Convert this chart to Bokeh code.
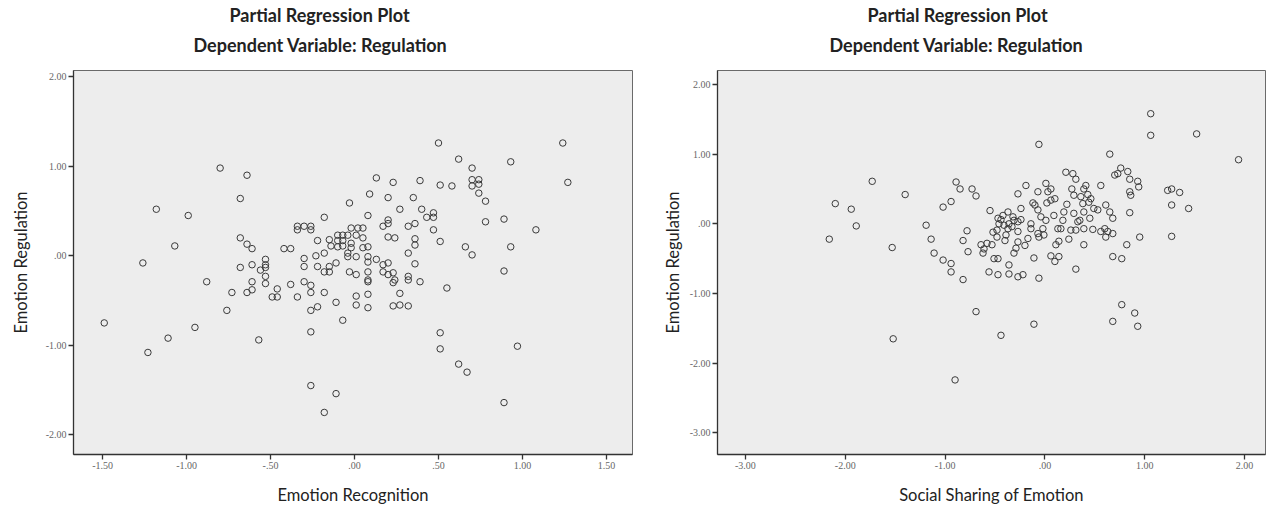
from bokeh.plotting import figure
from bokeh.layouts import row
from bokeh.models import FixedTicker, CustomJSTickFormatter, Title
from bokeh.embed import file_html
from bokeh.resources import INLINE

# ---------------- data ----------------
left_x = [-0.80, -0.64, -0.68, -1.18, -0.99, -1.07, -1.26, -0.88, -0.68, -0.64,
          -0.61, -0.68, -0.61, -0.56, -0.53, -0.53, -0.53, -0.53, -0.53, -0.61,
          -0.61, -0.73, -0.64, -0.46, -0.49, -0.46, -0.38, -0.34, -0.76, -0.42,
          -0.38, -0.34, -0.30, -0.26, -0.26, -0.34, -0.18, -0.22, -0.15, -0.10,
          -0.10, -0.10, -0.23, -0.18, -0.30, -0.30, -0.22, -0.18, -0.15, -0.15,
          -0.11, -0.30, -0.26, -0.26, -0.18, -0.22, -0.26, -0.11,
          -1.49, -1.23, -1.11, -0.95, -0.26, -0.57, 0.01, 0.01, 0.08, 0.08,
          0.08, 0.23, 0.23, 0.27, 0.32, 0.27, 0.32, 0.39, 0.55, 0.51,
          0.51, 0.97, 0.62, 0.67, 0.89, -0.26, -0.11, -0.18, -0.07,
          0.50, 1.24, 0.62, 0.93, 0.70, 0.74, 0.74, 0.70, 0.70, 1.27,
          0.13, 0.23, 0.39, 0.51, 0.58, 0.74, 0.78, 0.09, 0.20, 0.35,
          -0.03, 0.27, 0.40, 0.47, 0.47, 0.43, 0.08, 0.20, 0.20, 0.78,
          0.89, 1.08, 0.17, 0.32, 0.36, 0.47, -0.02, 0.02, 0.05, -0.07,
          -0.04, 0.01, 0.20, 0.24, 0.36, 0.36, 0.51, 0.66, 0.70, 0.93,
          -0.07, -0.14, -0.07, -0.02, -0.02, 0.05, 0.05, 0.08, -0.04, -0.04,
          0.01, 0.08, 0.13, 0.08, 0.17, 0.20, 0.32, 0.36, -0.03, 0.01,
          0.08, 0.08, 0.17, 0.20, 0.23, 0.24, 0.32, 0.89]
left_y = [0.98, 0.90, 0.64, 0.52, 0.45, 0.11, -0.08, -0.29, 0.20, 0.13,
          0.08, -0.13, -0.10, -0.16, -0.04, -0.10, -0.13, -0.23, -0.31, -0.29,
          -0.38, -0.41, -0.41, -0.37, -0.46, -0.46, -0.32, -0.46, -0.61, 0.08,
          0.08, 0.33, 0.33, 0.33, 0.29, 0.29, 0.43, 0.17, 0.18, 0.23,
          0.17, 0.10, 0.00, 0.03, -0.03, -0.12, -0.12, -0.18, -0.18, -0.12,
          -0.08, -0.29, -0.33, -0.41, -0.41, -0.57, -0.61, -0.52,
          -0.75, -1.08, -0.92, -0.80, -0.85, -0.94, -0.45, -0.55, -0.29, -0.43,
          -0.58, -0.30, -0.56, -0.55, -0.56, -0.42, -0.27, -0.29, -0.36, -0.86,
          -1.04, -1.01, -1.21, -1.30, -1.64, -1.45, -1.54, -1.75, -0.72,
          1.26, 1.26, 1.08, 1.05, 0.98, 0.85, 0.80, 0.85, 0.78, 0.82,
          0.87, 0.82, 0.84, 0.79, 0.78, 0.70, 0.61, 0.69, 0.65, 0.65,
          0.59, 0.52, 0.52, 0.48, 0.43, 0.43, 0.45, 0.40, 0.36, 0.38,
          0.41, 0.29, 0.33, 0.33, 0.36, 0.29, 0.31, 0.31, 0.31, 0.23,
          0.23, 0.23, 0.21, 0.20, 0.19, 0.12, 0.16, 0.10, 0.01, 0.10,
          0.17, 0.11, 0.11, 0.14, 0.09, 0.20, 0.09, 0.10, 0.03, -0.01,
          -0.01, -0.01, -0.04, -0.07, -0.10, -0.08, 0.03, -0.09, -0.18, -0.21,
          -0.18, -0.27, -0.18, -0.21, -0.19, -0.27, -0.23, -0.17]

right_x = [1.06, 1.06, 1.52, 1.94, -0.06, 0.65, -1.73, -2.10, -1.94, -1.89,
           -2.16, -1.53, -1.40, -0.89, -0.85, -0.73, -0.69, -0.94, -1.02, -1.19,
           -1.14, -1.11, -1.02, -0.94, -0.94, -0.82, -0.78, -0.82, -0.77, -0.64,
           -0.62, -0.53, -0.48, -0.48, -0.51, -0.47, -0.56, -0.47, -0.36, -0.36,
           -0.27, -0.22,
           -0.47, -0.42, -0.37, -0.32, -0.41, -0.36, -0.31, -0.37, -0.46, -0.27,
           -0.27, -0.19, -0.27, -0.27, -0.29, -0.31, -0.17, -0.14, -0.14,
           -0.10, -0.07, -0.07, 0.01, 0.03, 0.06, 0.06, 0.10, 0.01, -0.02,
           -0.01, -0.06, -0.07, 0.09, -0.04, -0.11, -0.06, 0.06, 0.10, 0.14,
           0.13, 0.14, 0.19, 0.29,
           0.21, 0.28, 0.31, 0.27, 0.29, 0.36, 0.39, 0.43, 0.38, 0.44,
           0.49, 0.53, 0.39, 0.41, 0.46, 0.56,
           0.26, 0.31, 0.39, 0.48, 0.56, 0.60, 0.63, 0.68, 0.61, 0.16,
           0.39, 0.31, 0.61, 0.65, 0.68, 0.68, 0.77, 0.82, 0.85,
           0.70, 0.73, 0.76, 0.83, 0.85, 0.93, 0.94, 0.85, 0.86, 0.95,
           1.23, 1.27, 1.35, 1.27, 1.44, 1.27,
           0.77, 0.90, 0.68, 0.93, -0.69, -0.11, -0.44, -1.52, -0.90,
           -0.58, -0.52, -0.44, -0.40, -0.33, -0.24, -0.20, -0.12, 0.18, 0.22,
           0.24, 0.33, 0.45, -0.55, -0.61, -0.39, -0.24, 0.02, 0.11, 0.35]
right_y = [1.58, 1.27, 1.29, 0.92, 1.14, 1.00, 0.61, 0.29, 0.21, -0.03,
           -0.22, -0.34, 0.42, 0.60, 0.50, 0.50, 0.40, 0.32, 0.24, -0.02,
           -0.22, -0.42, -0.52, -0.57, -0.69, -0.80, -0.10, -0.24, -0.40, -0.30,
           -0.42, -0.30, -0.19, -0.09, -0.50, -0.50, -0.69, -0.73, -0.59, -0.72,
           -0.76, -0.73,
           0.08, 0.12, 0.17, 0.10, -0.02, 0.00, 0.05, -0.07, 0.00, 0.03,
           0.43, 0.55, -0.11, -0.26, -0.35, -0.42, -0.21, -0.07, 0.00,
           0.27, 0.20, 0.46, 0.58, 0.46, 0.50, 0.34, 0.36, 0.05, -0.07,
           -0.16, -0.19, -0.14, 0.12, 0.10, -0.49, -0.78, -0.46, -0.54, -0.47,
           -0.07, -0.25, 0.17, 0.15,
           0.74, 0.72, 0.64, 0.50, 0.41, 0.39, 0.50, 0.42, 0.29, 0.31,
           0.22, 0.20, 0.17, 0.55, 0.36, 0.55,
           -0.09, -0.09, -0.07, -0.08, -0.11, -0.07, -0.11, -0.14, -0.19, -0.07,
           -0.30, -0.65, 0.27, 0.17, 0.08, -0.47, -0.50, -0.30, 0.16,
           0.70, 0.72, 0.80, 0.75, 0.64, 0.61, 0.53, 0.46, 0.41, -0.19,
           0.48, 0.50, 0.45, 0.27, 0.22, -0.18,
           -1.16, -1.28, -1.40, -1.47, -1.26, -1.44, -1.60, -1.65, -2.24,
           -0.28, -0.12, 0.06, -0.24, -0.04, 0.06, -0.31, 0.30, 0.05, 0.28,
           -0.22, 0.03, 0.08, 0.19, -0.36, -0.16, 0.22, 0.30, -0.30, 0.05]

left_xticks = [-1.5, -1.0, -0.5, 0.0, 0.5, 1.0, 1.5]
left_yticks = [-2.0, -1.0, 0.0, 1.0, 2.0]
right_xticks = [-3.0, -2.0, -1.0, 0.0, 1.0, 2.0]
right_yticks = [-3.0, -2.0, -1.0, 0.0, 1.0, 2.0]

title_line1 = "Partial Regression Plot"
title_line2 = "Dependent Variable: Regulation"
left_xlabel = "Emotion Recognition"
right_xlabel = "Social Sharing of Emotion"
ylabel = "Emotion Regulation"

# ---------------- styling helpers ----------------
fmt_code = """
const s = Math.abs(tick).toFixed(2);
const t = s.startsWith("0") ? s.slice(1) : s;
return (tick < -1e-9 ? "-" : "") + t;
"""


def title_style(t, standoff, offset):
    t.align = "left"
    t.offset = offset
    t.text_font = "Lato"
    t.text_font_style = "bold"
    t.text_font_size = "18px"
    t.text_color = "#222222"
    t.standoff = standoff


def style(p, xticks, yticks, xlabel, ystandoff, off1, off2):
    p.background_fill_color = "#ededed"
    p.border_fill_color = "white"
    p.outline_line_color = "#6a6a6a"
    p.outline_line_width = 1
    p.xgrid.visible = False
    p.ygrid.visible = False
    for ax, ticks in ((p.xaxis[0], xticks), (p.yaxis[0], yticks)):
        ax.ticker = FixedTicker(ticks=ticks)
        ax.formatter = CustomJSTickFormatter(code=fmt_code)
        ax.axis_line_color = "#333333"
        ax.axis_line_width = 1.3
        ax.major_tick_line_color = "#333333"
        ax.major_tick_line_width = 1.3
        ax.major_tick_out = 5
        ax.major_tick_in = 0
        ax.minor_tick_line_color = None
        ax.major_label_text_font = "Liberation Serif"
        ax.major_label_text_font_size = "10px"
        ax.major_label_text_color = "#666666"
        ax.major_label_standoff = 2
        ax.axis_label_text_font = "Lato"
        ax.axis_label_text_font_size = "16.5px"
        ax.axis_label_text_font_style = "normal"
        ax.axis_label_text_color = "#222222"
    p.xaxis[0].axis_label = xlabel
    p.xaxis[0].axis_label_standoff = 13
    p.yaxis[0].axis_label = ylabel
    p.yaxis[0].axis_label_standoff = ystandoff
    # outermost: first line (the figure's own title)
    p.title.text = title_line1
    title_style(p.title, 2, off1)
    # nearest the frame: a small empty spacer, then the second line
    spacer = Title(text=" ", text_font_size="1px", standoff=6)
    p.add_layout(spacer, "above")
    t2 = Title(text=title_line2)
    title_style(t2, 11, off2)
    p.add_layout(t2, "above")


# ---------------- left plot ----------------
p1 = figure(width=640, height=507, x_range=(-1.673, 1.655), y_range=(-2.22, 2.07),
            output_backend="svg", toolbar_location=None,
            min_border_left=73, min_border_right=8, min_border_top=70, min_border_bottom=52)
style(p1, left_xticks, left_yticks, left_xlabel, 12, 156, 120)
p1.scatter(left_x, left_y, marker="circle", size=6.5, fill_color=None,
           line_color="#3a3a3a", line_width=1)

# ---------------- right plot ----------------
p2 = figure(width=627, height=507, x_range=(-3.28, 2.21), y_range=(-3.31, 2.20),
            output_backend="svg", toolbar_location=None,
            min_border_left=77, min_border_right=2, min_border_top=70, min_border_bottom=52)
style(p2, right_xticks, right_yticks, right_xlabel, 4, 150, 112)
p2.scatter(right_x, right_y, marker="circle", size=6.5, fill_color=None,
           line_color="#3a3a3a", line_width=1)

layout = row(p1, p2)
open("out.html", "w").write(file_html(layout, INLINE))
